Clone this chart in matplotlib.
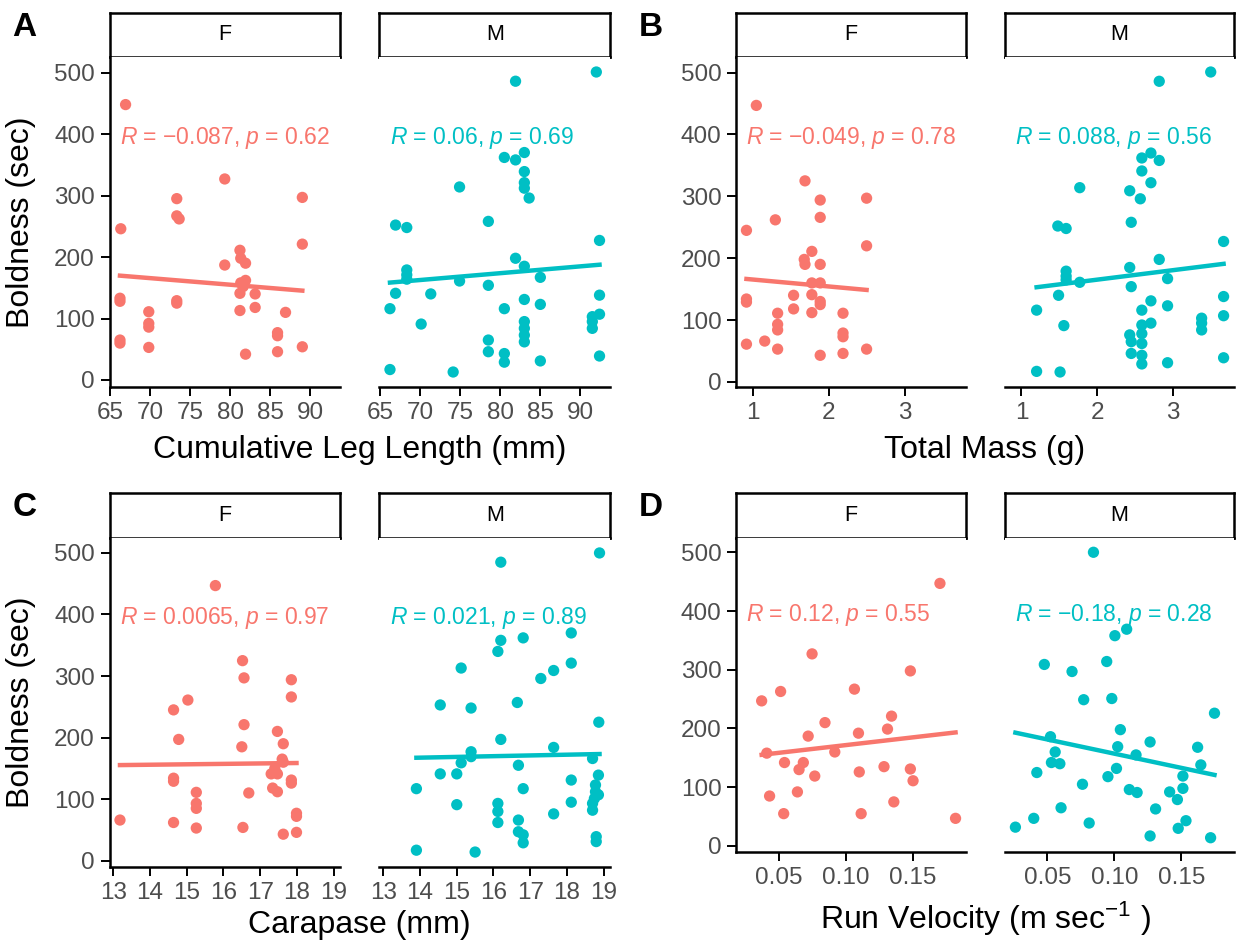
import numpy as np
import matplotlib.pyplot as plt

plt.rcParams['font.family'] = ['Liberation Sans', 'DejaVu Sans']
plt.rcParams['mathtext.fontset'] = 'custom'
plt.rcParams['mathtext.rm'] = 'Liberation Sans'
plt.rcParams['mathtext.it'] = 'Liberation Sans:italic'
plt.rcParams['mathtext.bf'] = 'Liberation Sans:bold'

F_COL = '#F8766D'
M_COL = '#00BFC4'

# --- data (boldness in sec) ---
# A: cumulative leg length (mm)
a_f_x = [66.9, 66.3, 66.2, 66.2, 66.2, 66.2, 69.8, 69.8, 69.8, 69.8, 73.3, 73.3, 73.6, 73.3, 73.3,
         79.3, 79.3, 81.2, 81.3, 81.9, 81.3, 81.9, 81.6, 81.2, 83.1, 81.2, 83.1, 81.9, 86.9, 85.9,
         85.9, 85.9, 89.0, 89.0, 89.0]
a_f_y = [448, 246, 133, 128, 65, 60, 111, 92, 86, 53, 295, 267, 262, 129, 125,
         327, 187, 211, 198, 190, 158, 162, 152, 141, 140, 113, 118, 42, 110, 77,
         72, 46, 297, 221, 54]
a_m_x = [66.2, 66.2, 66.9, 66.9, 68.3, 68.3, 68.3, 68.3, 70.1, 71.3, 74.9, 74.9, 74.1, 78.5, 78.5,
         78.5, 78.5, 80.5, 80.5, 80.5, 80.5, 81.9, 81.9, 81.9, 83.0, 83.0, 83.0, 83.0, 83.6, 83.0,
         83.0, 83.0, 83.0, 83.0, 83.0, 85.0, 85.0, 85.0, 92.0, 92.4, 92.4, 92.4, 91.5, 91.5, 91.5,
         92.4]
a_m_y = [17, 116, 141, 252, 248, 179, 171, 164, 91, 140, 314, 161, 13, 258, 154,
         65, 46, 116, 43, 29, 362, 358, 486, 198, 370, 339, 321, 312, 296, 185,
         131, 95, 84, 73, 62, 167, 123, 31, 501, 227, 138, 107, 103, 95, 84,
         39]

# B: total mass (g)
b_f_x = [1.05, 0.92, 0.92, 0.92, 0.92, 1.16, 1.30, 1.33, 1.33, 1.33, 1.33, 1.54, 1.54, 1.69, 1.68,
         1.69, 1.78, 1.78, 1.78, 1.78, 1.89, 1.89, 1.89, 1.89, 1.89, 1.89, 1.89, 2.19, 2.19, 2.19,
         2.19, 2.50, 2.50, 2.50]
b_f_y = [447, 245, 134, 129, 61, 66, 262, 111, 93, 84, 53, 140, 118, 325, 198,
         190, 211, 160, 141, 112, 294, 266, 190, 160, 130, 125, 43, 111, 79, 73,
         46, 297, 220, 53]
b_m_x = [1.20, 1.20, 1.51, 1.49, 1.56, 1.48, 1.59, 1.59, 1.59, 1.59, 1.77, 1.77, 2.43, 2.57, 2.45,
         2.43, 2.45, 2.59, 2.59, 2.71, 2.71, 2.82, 2.82, 2.82, 2.93, 2.93, 2.93, 2.71, 2.59, 2.71,
         2.59, 2.59, 2.59, 2.59, 2.59, 2.43, 2.45, 2.45, 3.38, 3.38, 3.38, 3.67, 3.67, 3.67, 3.67,
         3.50]
b_m_y = [17, 116, 16, 140, 91, 252, 248, 179, 171, 165, 161, 314, 309, 296, 258,
         185, 154, 362, 341, 370, 322, 358, 486, 198, 167, 123, 31, 131, 116, 95,
         92, 78, 62, 43, 29, 76, 65, 46, 103, 95, 84, 227, 138, 107, 39,
         501]

# C: carapace (mm)
c_f_x = [13.18, 14.64, 14.64, 14.64, 14.64, 14.78, 15.03, 15.26, 15.26, 15.26, 15.26, 15.78, 16.52, 16.56, 16.56,
         16.50, 16.53, 16.69, 17.47, 17.63, 17.30, 17.47, 17.63, 17.47, 17.34, 17.40, 17.60, 17.63, 17.85, 17.85,
         17.85, 17.85, 17.99, 17.99, 17.99]
c_f_y = [66, 245, 134, 129, 62, 197, 261, 111, 93, 85, 53, 447, 325, 297, 221,
         185, 54, 110, 210, 190, 141, 141, 160, 112, 118, 150, 165, 43, 294, 266,
         131, 126, 77, 72, 46]
c_m_x = [13.9, 13.9, 14.55, 14.55, 15.0, 15.0, 15.12, 15.12, 15.39, 15.39, 15.39, 15.5, 16.12, 16.2, 16.2,
         16.2, 16.12, 16.12, 16.12, 16.65, 16.68, 16.68, 16.68, 16.81, 16.81, 16.81, 16.81, 17.29, 17.64, 17.64,
         17.64, 18.12, 18.12, 18.12, 18.12, 18.7, 18.7, 18.7, 18.78, 18.78, 18.86, 18.86, 18.87, 18.89, 18.8,
         18.8, 18.75]
c_m_y = [17, 117, 253, 141, 141, 91, 313, 159, 248, 177, 169, 14, 340, 358, 485,
         197, 93, 80, 62, 257, 155, 66, 47, 362, 117, 42, 29, 296, 309, 184,
         76, 370, 321, 131, 95, 166, 93, 82, 123, 112, 139, 107, 225, 500, 39,
         31, 101]

# D: run velocity (m/s)
d_f_x = [0.0374, 0.0412, 0.0433, 0.0515, 0.0538, 0.0544, 0.0640, 0.0652, 0.0684, 0.0720, 0.0749, 0.0769, 0.0845, 0.0918,
         0.1064, 0.1094, 0.1100, 0.1114, 0.1284, 0.1310, 0.1340, 0.1357, 0.1480, 0.1480, 0.1500, 0.1700, 0.1816]
d_f_y = [247, 158, 85, 263, 55, 142, 92, 130, 142, 187, 327, 119, 210, 160,
         267, 192, 126, 55, 135, 199, 221, 75, 298, 131, 111, 447, 47]
d_m_x = [0.0261, 0.0398, 0.0421, 0.0477, 0.0523, 0.0558, 0.0530, 0.0593, 0.0602, 0.0684, 0.0762, 0.0771, 0.0812,
         0.0844, 0.0943, 0.0952, 0.0981, 0.1004, 0.1016, 0.1025, 0.1045, 0.1092, 0.1112, 0.1170, 0.1162, 0.1267,
         0.1267, 0.1308, 0.1413, 0.1471, 0.1477, 0.1512, 0.1512, 0.1535, 0.1622, 0.1646, 0.1719, 0.1748]
d_m_y = [32, 47, 125, 309, 186, 160, 142, 140, 65, 297, 105, 249, 39,
         500, 314, 118, 251, 358, 132, 169, 198, 369, 96, 91, 155, 177,
         17, 63, 92, 79, 30, 119, 98, 43, 168, 138, 14, 226]

# correlation labels (as printed)
a_labels = ['\u22120.087', '0.62', '0.06', '0.69']
b_labels = ['\u22120.049', '0.78', '0.088', '0.56']
c_labels = ['0.0065', '0.97', '0.021', '0.89']
d_labels = ['0.12', '0.55', '\u22120.18', '0.28']

W, H = 1236, 944
fig = plt.figure(figsize=(W / 100, H / 100), dpi=100)


def px_axes(x0, x1, y0, y1):
    return fig.add_axes([x0 / W, 1 - y1 / H, (x1 - x0) / W, (y1 - y0) / H])


def draw_panel(letter, xlabel, fx, fy, mx, my, labels, xticks, xfmt, cols, rows, xlab_y, ylab):
    allx = np.array(fx + mx)
    ally = np.array(fy + my)
    xr = allx.max() - allx.min()
    yr = ally.max() - ally.min()
    xlim = (allx.min() - 0.05 * xr, allx.max() + 0.05 * xr)
    ylim = (ally.min() - 0.05 * yr, ally.max() + 0.05 * yr)
    (s0, s1), (p0, p1) = rows

    for i, (sex, x, y, col) in enumerate([('F', fx, fy, F_COL), ('M', mx, my, M_COL)]):
        x0, x1 = cols[i]
        # strip
        st = px_axes(x0, x1, s0, s1)
        st.set_xticks([])
        st.set_yticks([])
        for sp in st.spines.values():
            sp.set_linewidth(1.8)
        st.text(0.5, 0.5, sex, ha='center', va='center', fontsize=15.5, transform=st.transAxes)

        ax = px_axes(x0, x1, p0, p1)
        x = np.array(x)
        y = np.array(y)
        ax.scatter(x, y, s=66, color=col, edgecolors='none', zorder=3)
        k, b = np.polyfit(x, y, 1)
        xx = np.array([x.min(), x.max()])
        ax.plot(xx, k * xx + b, color=col, lw=3.2, zorder=2)
        # stat label sits at the left end of the shared x range
        r, p = labels[2 * i], labels[2 * i + 1]
        ax.text(allx.min(), 400, r'$\it{R}$ = ' + r + r', $\it{p}$ = ' + p,
                color=col, fontsize=16.5, ha='left', va='center_baseline')

        ax.set_xlim(xlim)
        ax.set_ylim(ylim)
        ax.set_xticks(xticks)
        ax.set_xticklabels([xfmt.format(t) for t in xticks])
        ax.set_yticks([0, 100, 200, 300, 400, 500])
        ax.spines['top'].set_visible(False)
        ax.spines['right'].set_visible(False)
        ax.spines['bottom'].set_linewidth(1.8)
        ax.spines['left'].set_linewidth(1.8)
        ax.tick_params(length=6.5, width=1.4, labelsize=17.5, labelcolor='#4D4D4D', pad=4)
        if sex == 'M':
            ax.spines['left'].set_visible(False)
            ax.tick_params(axis='y', left=False, labelleft=False)

    xc = (cols[0][0] + cols[1][1]) / 2
    fig.text(xc / W, 1 - xlab_y / H, xlabel, ha='center', va='center', fontsize=23)
    if ylab:
        fig.text(21 / W, 1 - (p0 + p1) / 2 / H, 'Boldness (sec)', rotation=90,
                 ha='center', va='center', fontsize=23)
    fig.text((cols[0][0] - 85) / W, 1 - (s0 + 14) / H, letter, ha='center', va='center',
             fontsize=24, fontweight='bold')


left_cols = [(109.5, 340), (379.5, 610)]
right_cols = [(736, 966), (1005, 1234)]

draw_panel('A', 'Cumulative Leg Length (mm)', a_f_x, a_f_y, a_m_x, a_m_y, a_labels,
           [65, 70, 75, 80, 85, 90], '{:d}', left_cols, [(13, 57), (57, 387)], 450, True)
draw_panel('B', 'Total Mass (g)', b_f_x, b_f_y, b_m_x, b_m_y, b_labels,
           [1, 2, 3], '{:d}', right_cols, [(13, 57), (57, 387)], 450, False)
draw_panel('C', 'Carapase (mm)', c_f_x, c_f_y, c_m_x, c_m_y, c_labels,
           [13, 14, 15, 16, 17, 18, 19], '{:d}', left_cols, [(493, 538), (538, 867)], 925, True)
draw_panel('D', r'Run Velocity (m sec$^{\mathregular{-1}}$ )', d_f_x, d_f_y, d_m_x, d_m_y, d_labels,
           [0.05, 0.10, 0.15], '{:.2f}', right_cols, [(493, 538), (538, 852)], 919, False)

fig.savefig('out.png', dpi=100, facecolor='white')
